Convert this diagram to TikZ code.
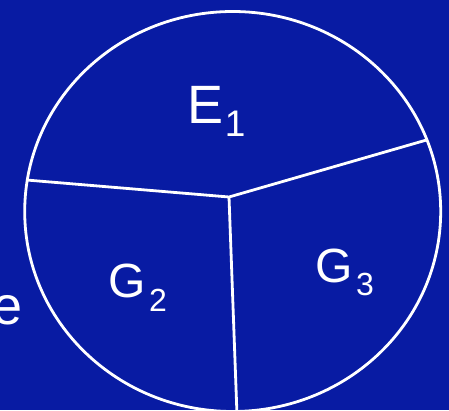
\documentclass[tikz,border=0pt]{standalone}
\usepackage{fontspec}
\setmainfont{Liberation Sans}
\definecolor{slideblue}{RGB}{8,27,163}

\begin{document}
\begin{tikzpicture}[x=1pt, y=-1pt,
  rim/.style={draw=white, line width=2.8pt},
  region/.style={anchor=base west, inner sep=0pt, text=white}]

% slide background
\fill[slideblue] (0,0) rectangle (449,410);
\clip (0,0) rectangle (449,410);

% cut-off slide text on the left
\node[region, font=\fontsize{56}{60}\selectfont] (lefttop) at (-15.5,80) {t};
\node[region, font=\fontsize{54}{60}\selectfont] (leftlow) at (-8,324) {e};

% outer circle
\draw[rim] (232.7,211.5) ellipse[x radius=208, y radius=200];

% spokes from the hub
\coordinate (hub) at (229,197);
\coordinate (west) at (26.5,180);
\coordinate (east) at (426.5,140);
\coordinate (south) at (237,415);
\draw[rim] (west) -- (hub) -- (east);
\draw[rim] (hub) -- (south);

% region labels
\node[region, font=\fontsize{54}{60}\selectfont] (e1) at (187.7,123)
  {E\kern1pt\raisebox{-13pt}{\fontsize{37}{40}\selectfont 1}};
\node[region, font=\fontsize{48}{56}\selectfont] (g2) at (108.5,297)
  {G\kern3pt\raisebox{-14pt}{\fontsize{32}{34}\selectfont 2}};
\node[region, font=\fontsize{48}{56}\selectfont] (g3) at (315.5,282)
  {G\kern3pt\raisebox{-13pt}{\fontsize{32}{34}\selectfont 3}};

\end{tikzpicture}
\end{document}
